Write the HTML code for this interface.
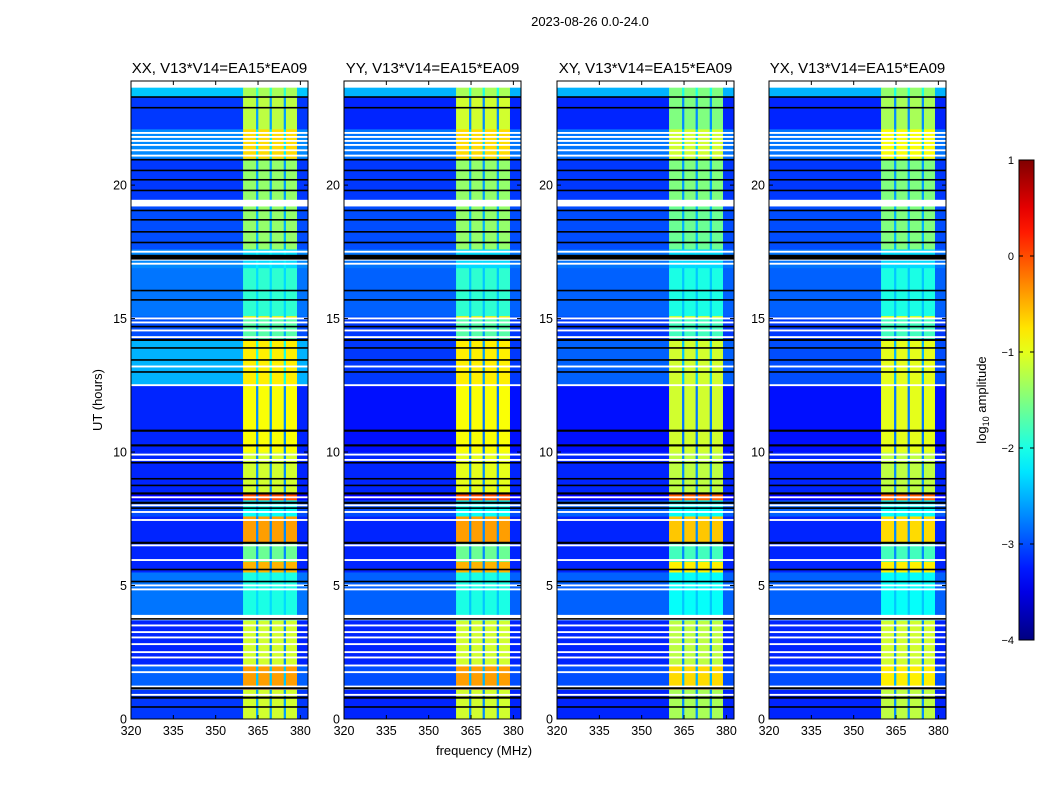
<!DOCTYPE html>
<html><head><meta charset="utf-8">
<style>
html,body{margin:0;padding:0;background:#fff;}
svg text{font-family:"Liberation Sans",sans-serif;fill:#000;}
</style></head>
<body>
<svg id="fig" width="1050" height="800" viewBox="0 0 1050 800" xmlns="http://www.w3.org/2000/svg">
<rect width="1050" height="800" fill="#fff"/>
<text x="590" y="26" font-size="13" text-anchor="middle">2023-08-26 0.0-24.0</text>
<text x="484" y="755" font-size="13" text-anchor="middle">frequency (MHz)</text>
<text x="102" y="400" font-size="13" text-anchor="middle" transform="rotate(-90 102 400)">UT (hours)</text>
<g id="panels"></g>
<g id="cbar"></g>
</svg>
<script>
// ---- data ----
const panelNames = ["XX", "YY", "XY", "YX"];
const panelTitles = ["XX, V13*V14=EA15*EA09","YY, V13*V14=EA15*EA09","XY, V13*V14=EA15*EA09","YX, V13*V14=EA15*EA09"];
const xTicks = [320, 335, 350, 365, 380];
const yTicks = [0, 5, 10, 15, 20];
const cbTicks = [1, 0, -1, -2, -3, -4];
const cbTickLabels = ["1", "0", "\u22121", "\u22122", "\u22123", "\u22124"];
// frequency bands (MHz): 0 = off-band low, 1 = high band, 2 = gap in high band
const bandStart = [320, 359.7, 364.3, 365.1, 369.1, 369.9, 374.1, 374.9, 378.8];
const bandEnd   = [359.7, 364.3, 365.1, 369.1, 369.9, 374.1, 374.9, 378.8, 382.7];
const bandKind  = [0, 1, 2, 1, 2, 1, 2, 1, 0];
// time segments (hours)
const segStart = [0, 1.1, 2.0, 3.7, 5.5, 5.9, 6.6, 7.6, 8.2, 8.5, 10.0, 12.5, 14.2, 15.0, 15.1, 16.9, 17.6, 19.2, 21.0, 22.1, 23.3];
const segEnd   = [1.1, 2.0, 3.7, 5.5, 5.9, 6.6, 7.6, 8.2, 8.5, 10.0, 12.5, 14.2, 15.0, 15.1, 16.9, 17.6, 19.2, 21.0, 22.1, 23.3, 23.65];
// log10 amplitude per segment: low (off-band) and high band, per panel
const lowXX  = [-3.1,-2.9,-3.2,-2.8,-3.2,-3.2,-3.2,-3.0,-3.4,-3.2,-3.2,-2.5,-3.0,-2.9,-2.8,-2.7,-3.0,-3.1,-2.7,-3.1,-2.4];
const highXX = [-1.1,-0.4,-1.1,-2.0,-0.5,-1.6,-0.4,-2.1, 0.0,-1.1,-0.9,-0.8,-1.7,-0.8,-1.9,-2.3,-1.4,-1.4,-0.7,-1.2,-1.3];
const lowYY  = [-3.2,-3.0,-3.2,-2.9,-3.2,-3.2,-3.2,-3.0,-3.4,-3.2,-3.3,-3.1,-3.1,-3.0,-2.9,-2.8,-3.0,-3.1,-2.8,-3.2,-2.5];
const highYY = [-1.1,-0.4,-1.1,-2.0,-0.5,-1.6,-0.4,-2.1, 0.0,-1.0,-0.9,-0.8,-1.7,-0.8,-1.9,-2.3,-1.4,-1.4,-0.7,-1.1,-1.3];
const lowXY  = [-3.2,-3.0,-3.2,-2.9,-3.2,-3.2,-3.2,-2.9,-3.4,-3.2,-3.3,-2.9,-3.1,-3.0,-2.9,-2.8,-3.0,-3.1,-2.8,-3.2,-2.5];
const highXY = [-1.3,-0.7,-1.2,-2.1,-0.8,-1.8,-0.6,-2.1,-0.1,-1.2,-1.1,-1.1,-1.8,-1.0,-2.0,-2.3,-1.6,-1.5,-1.1,-1.5,-1.5];
const lowYX  = [-3.2,-3.0,-3.2,-2.9,-3.2,-3.2,-3.2,-2.9,-3.4,-3.2,-3.3,-3.0,-3.1,-3.0,-2.9,-2.8,-3.0,-3.1,-2.8,-3.2,-2.5];
const highYX = [-1.2,-0.8,-1.1,-2.1,-0.8,-1.8,-0.7,-2.1,-0.1,-1.2,-1.0,-1.0,-1.8,-0.9,-2.0,-2.3,-1.5,-1.5,-0.9,-1.3,-1.4];
// flagged (white) rows: start,end hours
const whiteStart = [21.92,21.77,21.62,21.47,21.27,21.07,19.2,17.47,17.17,17.02,14.97,14.82,14.52,14.27,13.17,12.47,9.87,9.67,8.27,7.97,7.72,7.42,6.47,5.92,4.97,4.82,3.7,3.47,3.22,3.02,2.77,2.47,2.27,1.97,1.72,1.1,0.87];
const whiteEnd   = [21.99,21.84,21.69,21.54,21.34,21.14,19.45,17.54,17.24,17.09,15.04,14.89,14.59,14.34,13.24,12.54,9.94,9.74,8.34,8.04,7.79,7.49,6.54,5.99,5.04,4.89,3.9,3.54,3.29,3.09,2.84,2.54,2.34,2.04,1.79,1.25,0.94];
// black lines: center hours and thickness hours
const blackT = [23.3,22.9,20.95,20.55,20.2,19.8,19.05,18.7,18.25,17.85,17.3,16.05,15.7,14.7,14.2,13.9,13.45,13.0,10.8,10.25,9.6,9.0,8.75,8.45,8.1,7.9,6.6,5.6,5.15,3.75,1.15,0.8,0.45];
const blackW = [0.06,0.06,0.06,0.06,0.06,0.06,0.06,0.06,0.06,0.06,0.18,0.06,0.06,0.06,0.08,0.06,0.06,0.06,0.08,0.08,0.06,0.06,0.06,0.08,0.08,0.06,0.08,0.06,0.06,0.06,0.08,0.08,0.06];

const lows = [lowXX, lowYY, lowXY, lowYX];
const highs = [highXX, highYY, highXY, highYX];
const panelLeft = [131, 344, 557, 769];

// ---- scales ----
const PW = 177, PT = 81, PB = 719;
const fMin = 320, fMax = 382.7, tMin = 0, tMax = 23.9;
function xScale(p, f){ return panelLeft[p] + (f - fMin) / (fMax - fMin) * PW; }
function yScale(t){ return PB - (t - tMin) / (tMax - tMin) * (PB - PT); }
const vMin = -4, vMax = 1;
function jet(v){
  let x = Math.max(0, Math.min(1, (v - vMin) / (vMax - vMin)));
  const c = k => Math.round(255 * Math.max(0, Math.min(1, 1.5 - Math.abs(4 * x - k))));
  return `rgb(${c(3)},${c(2)},${c(1)})`;
}
const NS = "http://www.w3.org/2000/svg";
function mk(tag, attrs, parent){
  const e = document.createElementNS(NS, tag);
  for (const k in attrs) e.setAttribute(k, attrs[k]);
  parent.appendChild(e); return e;
}
const panelsG = document.getElementById('panels');
for (let p = 0; p < 4; p++){
  const g = mk('g', {}, panelsG);
  
  
  mk('rect', {x: panelLeft[p], y: PT, width: PW, height: PB - PT, fill: '#fff'}, g);
  const hm = mk('g', {}, g);
  
  
  for (let s = 0; s < segStart.length; s++){
    for (let b = 0; b < bandStart.length; b++){
      let v = bandKind[b] === 0 ? lows[p][s] : (bandKind[b] === 1 ? highs[p][s] : lows[p][s] + 0.5);
      const x0 = xScale(p, bandStart[b]), x1 = xScale(p, bandEnd[b]);
      const y0 = yScale(segEnd[s]), y1 = yScale(segStart[s]);
      const r = mk('rect', {x: x0, y: y0, width: x1 - x0 + 0.3, height: y1 - y0 + 0.3, fill: jet(v)}, hm);
      
      
    }
  }
  for (let i = 0; i < whiteStart.length; i++){
    const y0 = yScale(whiteEnd[i]), y1 = yScale(whiteStart[i]);
    const r = mk('rect', {x: panelLeft[p], y: y0, width: PW, height: y1 - y0, fill: '#fff'}, hm);
    
    
  }
  for (let i = 0; i < blackT.length; i++){
    const y0 = yScale(blackT[i] + blackW[i] / 2), y1 = yScale(blackT[i] - blackW[i] / 2);
    const r = mk('rect', {x: panelLeft[p], y: y0, width: PW, height: y1 - y0, fill: '#000'}, hm);
    
    
  }
  const fr = mk('rect', {x: panelLeft[p], y: PT, width: PW, height: PB - PT, fill: 'none', stroke: '#000', 'stroke-width': 1}, g);
  
  
  const tt = mk('text', {x: panelLeft[p] + PW / 2, y: 73, 'font-size': 15, 'text-anchor': 'middle'}, g);
  tt.textContent = panelTitles[p];
  
  
  for (const f of xTicks){
    const x = xScale(p, f);
    mk('line', {x1: x, x2: x, y1: PB, y2: PB - 4, stroke: '#000'}, g);
    mk('line', {x1: x, x2: x, y1: PT, y2: PT + 4, stroke: '#000'}, g);
    const t = mk('text', {x: x, y: PB + 16, 'font-size': 12.5, 'text-anchor': 'middle'}, g);
    t.textContent = f;
    
    
  }
  for (const h of yTicks){
    const y = yScale(h);
    mk('line', {x1: panelLeft[p], x2: panelLeft[p] + 4, y1: y, y2: y, stroke: '#000'}, g);
    mk('line', {x1: panelLeft[p] + PW, x2: panelLeft[p] + PW - 4, y1: y, y2: y, stroke: '#000'}, g);
    const t = mk('text', {x: panelLeft[p] - 4, y: y + 4.5, 'font-size': 12.5, 'text-anchor': 'end'}, g);
    t.textContent = h;
    
    
  }
}
// colorbar
const cb = document.getElementById('cbar');
const CX = 1019, CW = 15, CT = 160, CB = 640;
function cbY(v){ return CB - (v - vMin) / (vMax - vMin) * (CB - CT); }
const defs = mk('defs', {}, cb);
const grad = mk('linearGradient', {id: 'jetg', x1: 0, y1: 1, x2: 0, y2: 0}, defs);
for (let i = 0; i <= 20; i++){
  const v = vMin + (vMax - vMin) * i / 20;
  mk('stop', {offset: (i / 20), 'stop-color': jet(v)}, grad);
}
mk('rect', {x: CX, y: CT, width: CW, height: CB - CT, fill: 'url(#jetg)', stroke: '#000', 'stroke-width': 1}, cb);
for (let i = 0; i < cbTicks.length; i++){
  const y = cbY(cbTicks[i]);
  mk('line', {x1: CX, x2: CX + 4, y1: y, y2: y, stroke: '#000'}, cb);
  mk('line', {x1: CX + CW, x2: CX + CW - 4, y1: y, y2: y, stroke: '#000'}, cb);
  const t = mk('text', {x: CX - 5, y: y + 4, 'font-size': 11, 'text-anchor': 'end'}, cb);
  t.textContent = cbTickLabels[i];
  
  
}
const cl = mk('text', {x: 986, y: 400, 'font-size': 13, 'text-anchor': 'middle', transform: 'rotate(-90 986 400)'}, cb);
cl.innerHTML = 'log<tspan font-size="9" dy="3">10</tspan><tspan dy="-3"> amplitude</tspan>';


</script>
</body></html>
